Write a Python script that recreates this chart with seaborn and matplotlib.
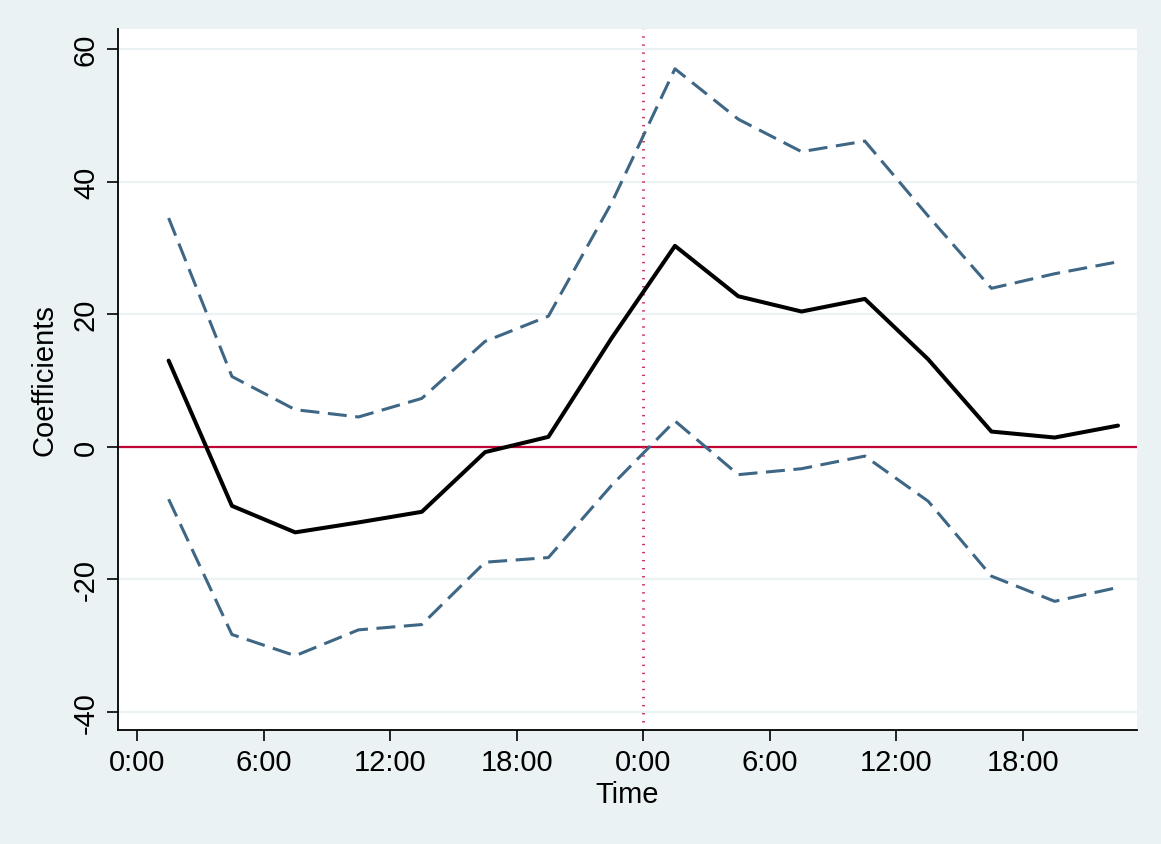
import seaborn as sns
import pandas as pd
import matplotlib.pyplot as plt

hours = [1.5, 4.5, 7.5, 10.5, 13.5, 16.5, 19.5, 22.5,
         25.5, 28.5, 31.5, 34.5, 37.5, 40.5, 43.5, 46.5]
coef = [13.0, -8.9, -12.9, -11.4, -9.8, -0.8, 1.5, 16.4,
        30.3, 22.7, 20.4, 22.3, 13.2, 2.3, 1.4, 3.2]
upper = [34.5, 10.6, 5.6, 4.5, 7.3, 15.9, 19.7, 36.8,
         57.0, 49.4, 44.5, 46.1, 34.8, 23.9, 26.1, 27.9]
lower = [-7.9, -28.3, -31.5, -27.6, -26.8, -17.4, -16.7, -5.8,
         3.9, -4.2, -3.3, -1.4, -8.2, -19.5, -23.3, -21.2]

xtick_pos = [0, 6, 12, 18, 24, 30, 36, 42]
xtick_labels = ['0:00', '6:00', '12:00', '18:00', '0:00', '6:00', '12:00', '18:00']
ytick_pos = [-40, -20, 0, 20, 40, 60]

df = pd.DataFrame({'hour': hours, 'coef': coef, 'upper': upper, 'lower': lower})

sns.set_style('ticks')
plt.rcParams['font.family'] = ['Liberation Sans', 'DejaVu Sans']
plt.rcParams['text.color'] = 'black'
plt.rcParams['axes.labelcolor'] = 'black'
plt.rcParams['xtick.color'] = 'black'
plt.rcParams['ytick.color'] = 'black'

bg = '#eaf2f3'
dash_col = '#3e6685'
red = '#c10534'

fig = plt.figure(figsize=(11.61, 8.45), dpi=100, facecolor=bg)
ax = fig.add_axes([118 / 1161, 1 - 731 / 845, (1137 - 118) / 1161, (731 - 30) / 845])
ax.set_facecolor('white')

for y in ytick_pos:
    ax.axhline(y, color=bg, lw=1.6, zorder=0)
ax.axhline(0, color=red, lw=1.6, zorder=1)
ax.axvline(24, color='#cc2a55', lw=2.0, ls=(0, (0.5, 2.4)), zorder=1)

sns.lineplot(data=df, x='hour', y='upper', ax=ax, color=dash_col, lw=2.2,
             dashes=False, zorder=2)
sns.lineplot(data=df, x='hour', y='lower', ax=ax, color=dash_col, lw=2.2,
             dashes=False, zorder=2)
ax.lines[-1].set_dashes((6.2, 2.8))
ax.lines[-2].set_dashes((6.2, 2.8))
sns.lineplot(data=df, x='hour', y='coef', ax=ax, color='black', lw=2.9, zorder=3)

ax.set_xlim(-0.9, 47.4)
ax.set_ylim(-42.7, 63.0)
ax.set_xticks(xtick_pos)
ax.set_xticklabels(xtick_labels)
ax.set_yticks(ytick_pos)
ax.set_yticklabels([str(v) for v in ytick_pos], rotation=90, va='center')
ax.tick_params(axis='both', labelsize=21, length=8, width=1.2, pad=5)

ax.set_xlabel('Time', fontsize=21, labelpad=3)
ax.set_ylabel('Coefficients', fontsize=21, labelpad=10)

for side in ['top', 'right']:
    ax.spines[side].set_visible(False)
for side in ['left', 'bottom']:
    ax.spines[side].set_linewidth(1.3)
    ax.spines[side].set_color('black')

fig.savefig('out.png', dpi=100, facecolor=bg)
